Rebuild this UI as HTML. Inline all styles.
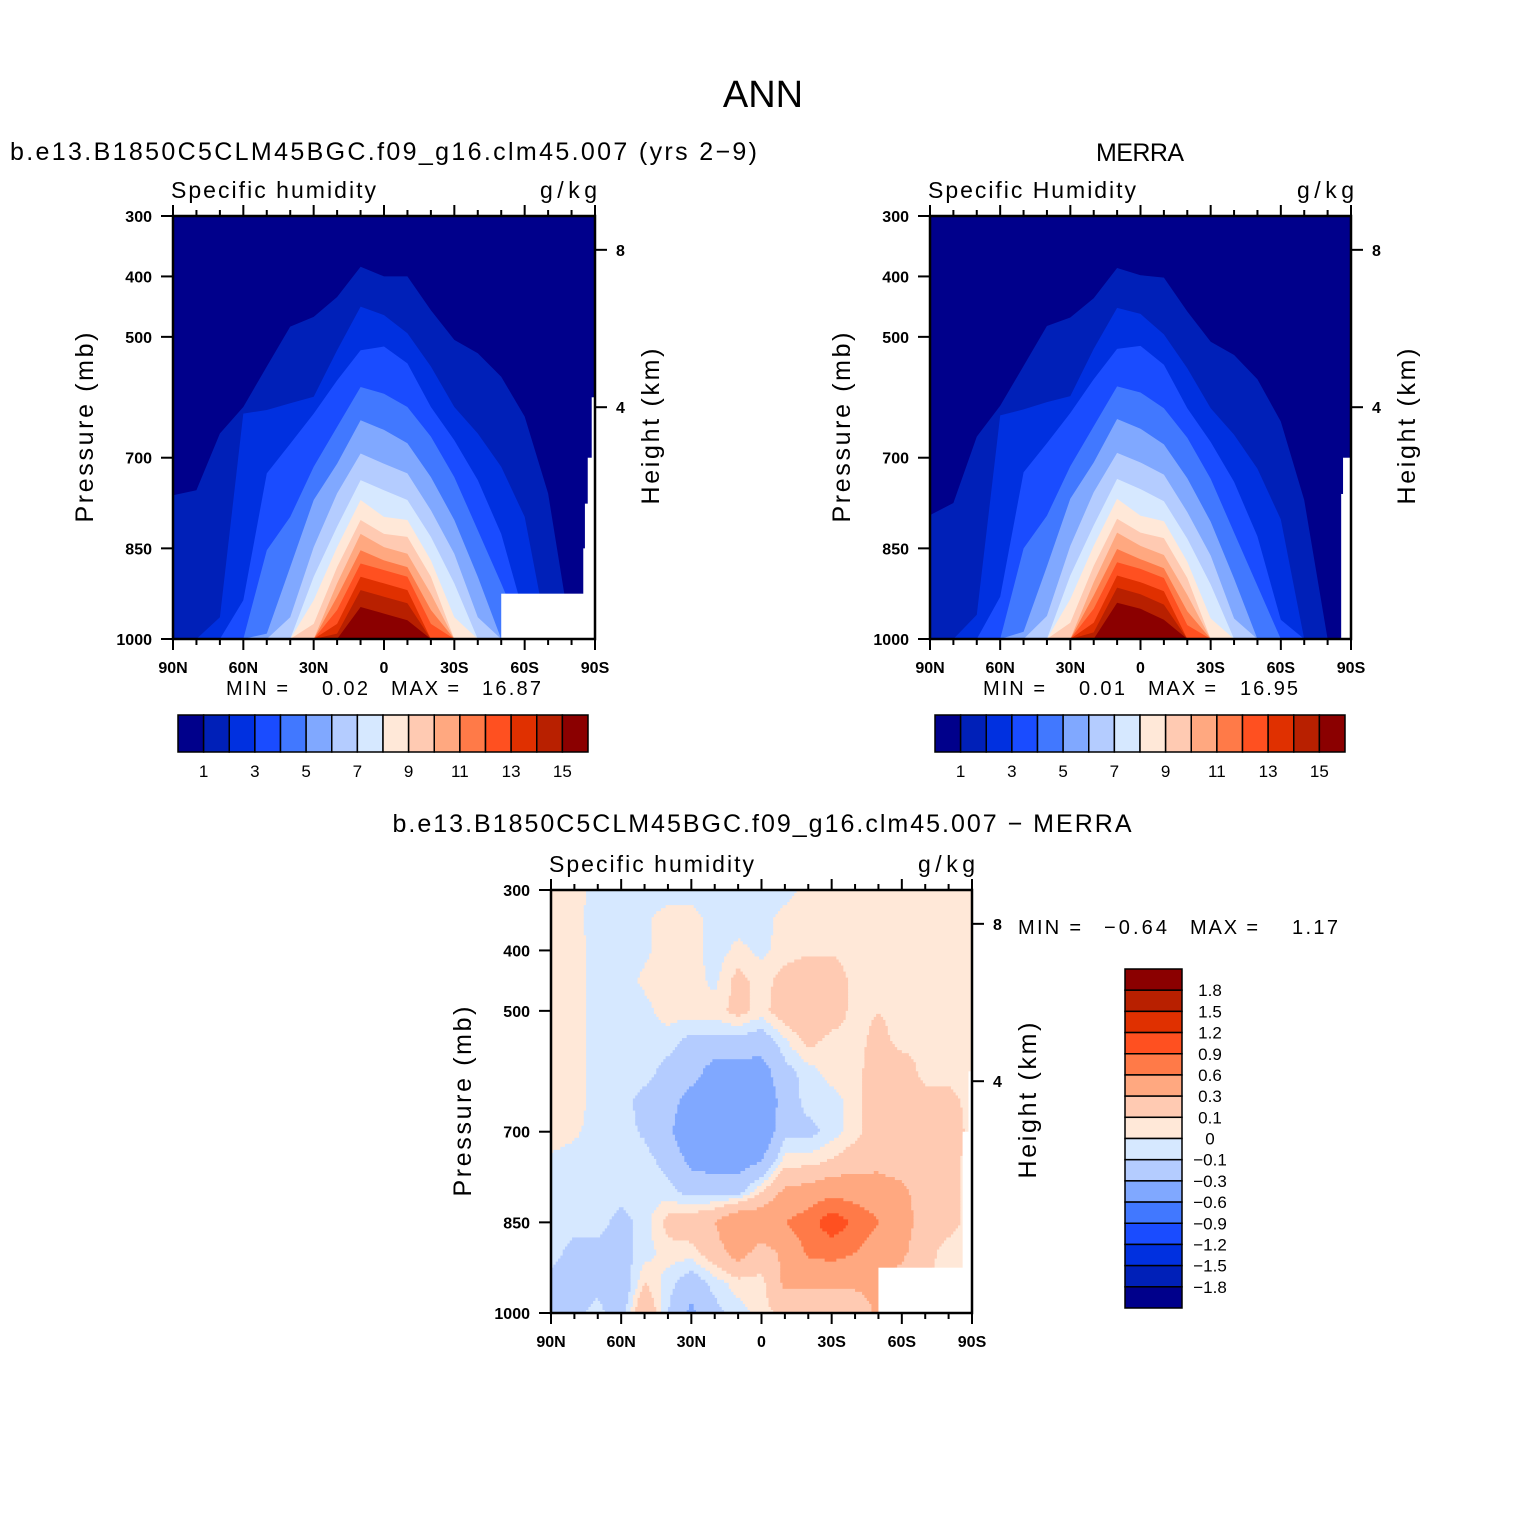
<!DOCTYPE html>
<html>
<head>
<meta charset="utf-8">
<style>
html,body{margin:0;padding:0;background:#fff;}
svg{display:block;font-family:"Liberation Sans",sans-serif;}
.tk{font-size:16px;font-weight:bold;}
.ttl{font-size:25px;}
.sub{font-size:23px;}
.mm{font-size:20px;}
.cb{font-size:17px;}
</style>
</head>
<body>
<svg id="fig" width="1524" height="1524" viewBox="0 0 1524 1524" xmlns="http://www.w3.org/2000/svg">
<rect x="0" y="0" width="1524" height="1524" fill="#fff"/>
<text x="763" y="107" text-anchor="middle" font-size="38">ANN</text>
<text x="10" y="160" class="ttl" textLength="747">b.e13.B1850C5CLM45BGC.f09_g16.clm45.007 (yrs 2−9)</text>
<text x="1140" y="161" class="ttl" text-anchor="middle" textLength="88">MERRA</text>
<text x="762" y="832" class="ttl" text-anchor="middle" textLength="739">b.e13.B1850C5CLM45BGC.f09_g16.clm45.007 − MERRA</text>

<text x="171" y="198" class="sub" textLength="205">Specific humidity</text>
<text x="540" y="198" class="sub" textLength="57">g/kg</text>
<text x="928" y="198" class="sub" textLength="208">Specific Humidity</text>
<text x="1297" y="198" class="sub" textLength="57">g/kg</text>
<text x="549" y="872" class="sub" textLength="205">Specific humidity</text>
<text x="918" y="872" class="sub" textLength="57">g/kg</text>

<text x="226" y="695" class="mm" textLength="62">MIN =</text>
<text x="322" y="695" class="mm" textLength="46">0.02</text>
<text x="391" y="695" class="mm" textLength="68">MAX =</text>
<text x="482" y="695" class="mm" textLength="59">16.87</text>
<text x="983" y="695" class="mm" textLength="62">MIN =</text>
<text x="1079" y="695" class="mm" textLength="46">0.01</text>
<text x="1148" y="695" class="mm" textLength="68">MAX =</text>
<text x="1240" y="695" class="mm" textLength="58">16.95</text>
<text x="1018" y="934" class="mm" textLength="63">MIN =</text>
<text x="1104" y="934" class="mm" textLength="63">−0.64</text>
<text x="1190" y="934" class="mm" textLength="68">MAX =</text>
<text x="1292" y="934" class="mm" textLength="46">1.17</text>

<g id="layer"></g>
</svg>
<script>
// ---------- data ----------
const latGrid = [90,80,70,60,50,40,30,20,10,0,-10,-20,-30,-40,-50,-60,-70,-80,-90];
const xTickLats = [90,60,30,0,-30,-60,-90];
const xTickLabels = ["90N","60N","30N","0","30S","60S","90S"];
const pTicks = [300,400,500,700,850,1000];
const kmTicks = [8,4];
const absColors = ["#00008B","#0020B8","#0030E0","#1A4CFF","#4178FF","#80A8FF","#B4CCFF","#D6E8FF","#FFE8D8","#FFCAB2","#FFA880","#FF7A48","#FF5020","#E03000","#B82000","#8B0000"];
const absCbLabels = ["1","3","5","7","9","11","13","15"];
const diffLevels = [-1.8,-1.5,-1.2,-0.9,-0.6,-0.3,-0.1,0,0.1,0.3,0.6,0.9,1.2,1.5,1.8];
const diffCbLabels = ["−1.8","−1.5","−1.2","−0.9","−0.6","−0.3","−0.1","0","0.1","0.3","0.6","0.9","1.2","1.5","1.8"];

const modelTop = [
 [762,754,660,616,549,483,467,434,384,400,400,456,505,527,566,632,759,1000,1000],
 [1000,1000,964,627,621,610,599,522,450,464,494,549,616,660,715,798,1000,1000,1000],
 [1000,1000,1000,936,726,677,627,572,522,516,544,616,671,737,826,964,1000,1000,1000],
 [1000,1000,1000,1000,853,798,715,649,583,594,616,665,732,820,908,1000,1000,1000,1000],
 [1000,1000,1000,1000,991,881,770,710,638,654,676,732,803,897,1000,1000,1000,1000,1000],
 [1000,1000,1000,1000,1000,964,848,759,693,710,726,787,859,964,1000,1000,1000,1000,1000],
 [1000,1000,1000,1000,1000,1000,897,814,737,754,770,831,908,1000,1000,1000,1000,1000,1000],
 [1000,1000,1000,1000,1000,1000,936,848,770,798,803,870,964,1000,1000,1000,1000,1000,1000],
 [1000,1000,1000,1000,1000,1000,975,881,803,826,831,897,1000,1000,1000,1000,1000,1000,1000],
 [1000,1000,1000,1000,1000,1000,1000,908,826,848,859,925,1000,1000,1000,1000,1000,1000,1000],
 [1000,1000,1000,1000,1000,1000,1000,930,853,870,881,952,1000,1000,1000,1000,1000,1000,1000],
 [1000,1000,1000,1000,1000,1000,1000,952,875,886,897,975,1000,1000,1000,1000,1000,1000,1000],
 [1000,1000,1000,1000,1000,1000,1000,975,897,908,919,1000,1000,1000,1000,1000,1000,1000,1000],
 [1000,1000,1000,1000,1000,1000,1000,991,919,930,941,1000,1000,1000,1000,1000,1000,1000,1000],
 [1000,1000,1000,1000,1000,1000,1000,1000,947,958,969,1000,1000,1000,1000,1000,1000,1000,1000]
];
const obsTop = [
 [795,775,665,614,548,482,468,436,386,398,402,458,508,530,570,640,770,1000,1000],
 [1000,1000,960,630,620,608,598,520,452,462,496,552,618,662,718,802,1000,1000,1000],
 [1000,1000,1000,930,724,676,626,570,520,515,546,618,674,740,830,968,1000,1000,1000],
 [1000,1000,1000,1000,850,796,714,648,582,592,618,667,735,824,912,1000,1000,1000,1000],
 [1000,1000,1000,1000,988,880,768,708,636,652,678,734,806,900,1000,1000,1000,1000,1000],
 [1000,1000,1000,1000,1000,962,846,757,692,708,728,790,862,966,1000,1000,1000,1000,1000],
 [1000,1000,1000,1000,1000,1000,895,812,735,752,772,834,910,1000,1000,1000,1000,1000,1000],
 [1000,1000,1000,1000,1000,1000,934,846,768,796,805,872,966,1000,1000,1000,1000,1000,1000],
 [1000,1000,1000,1000,1000,1000,973,879,801,824,833,899,1000,1000,1000,1000,1000,1000,1000],
 [1000,1000,1000,1000,1000,1000,1000,906,824,846,861,927,1000,1000,1000,1000,1000,1000,1000],
 [1000,1000,1000,1000,1000,1000,1000,928,851,868,883,954,1000,1000,1000,1000,1000,1000,1000],
 [1000,1000,1000,1000,1000,1000,1000,950,873,884,899,977,1000,1000,1000,1000,1000,1000,1000],
 [1000,1000,1000,1000,1000,1000,1000,973,895,906,921,1000,1000,1000,1000,1000,1000,1000,1000],
 [1000,1000,1000,1000,1000,1000,1000,989,915,926,943,1000,1000,1000,1000,1000,1000,1000,1000],
 [1000,1000,1000,1000,1000,1000,1000,1000,940,950,968,1000,1000,1000,1000,1000,1000,1000,1000]
];
const modelMissing = [[-50,-90,925],[-85,-90,850],[-85.7,-90,776],[-86.9,-90,700],[-88.6,-90,600]];
const obsMissing = [[-86.6,-90,700],[-85.8,-90,760]];
const diffMissing = [[-50,-90,925],[-86,-90,700],[-88.5,-90,600]];

const diffP = [300,350,400,450,500,550,600,650,700,750,800,850,900,950,1000];
const diffVals = [
 [.05,.05,-.05,-.05,-.05,-.05,-.05,-.05,-.05,-.05,-.05,.05,.05,.05,.05,.05,.05,.05,.05],
 [.05,.03,-.05,-.05,-.02,.05,.05,-.05,-.05,-.05,.05,.05,.05,.05,.05,.05,.05,.05,.05],
 [.05,.05,-.05,-.05,-.02,.05,.05,-.05,.03,-.03,.05,.08,.08,.05,.05,.05,.05,.05,.05],
 [.05,.05,-.05,-.05,.02,.05,.05,-.03,.15,.05,.15,.2,.2,.05,.05,.05,.05,.05,.05],
 [.05,.05,-.05,-.05,-.03,.05,.05,.05,.15,.05,.2,.25,.2,.05,.1,.05,.05,.05,.05],
 [.05,.05,-.05,-.05,-.05,-.05,-.15,-.15,-.15,-.2,-.02,.15,.05,.05,.15,.05,.05,.05,.05],
 [.05,.05,-.05,-.05,-.05,-.15,-.2,-.4,-.4,-.4,-.15,-.05,.05,.05,.2,.2,.05,.05,.05],
 [.05,.05,-.05,-.05,-.15,-.2,-.4,-.45,-.45,-.5,-.2,-.05,-.05,.05,.2,.2,.15,.15,.05],
 [.05,.02,-.05,-.05,-.12,-.25,-.5,-.55,-.45,-.5,-.15,-.15,-.05,.05,.2,.2,.2,.2,.05],
 [-.02,-.05,-.05,-.05,-.05,-.15,-.35,-.4,-.4,-.3,.05,.05,.12,.2,.25,.2,.2,.15,.05],
 [-.05,-.05,-.05,-.05,-.05,-.05,-.15,-.15,-.15,.1,.35,.4,.5,.45,.4,.35,.2,.15,.05],
 [-.05,-.05,-.05,-.15,-.05,.15,.2,.3,.55,.5,.6,.75,1.1,.85,.6,.4,.2,.15,.05],
 [-.05,-.15,-.15,-.15,-.05,.05,.05,.2,.4,.2,.35,.65,.7,.6,.4,.35,.15,.05,.05],
 [-.15,-.15,-.15,-.25,.1,-.05,-.2,-.05,.05,.05,.35,.35,.35,.35,.35,.2,.1,.05,.05],
 [-.15,-.15,-.05,-.2,.3,-.1,-.35,-.15,-.05,.05,.15,.1,.15,.15,.35,.2,.1,.05,.05]
];

// ---------- helpers ----------
const NS = "http://www.w3.org/2000/svg";
const layer = document.getElementById("layer");
function mk(parent, tag, attrs, text) {
  const e = document.createElementNS(NS, tag);
  for (const k in attrs) e.setAttribute(k, attrs[k]);
  if (text !== undefined) e.textContent = text;
  parent.appendChild(e);
  return e;
}
function kmToP(km) { return 1013.25 * Math.pow(1 - 2.25577e-5 * km * 1000, 5.25588); }

function makePanel(name, L, T, W, H) {
  const p = { L, T, W, H, name };
  p.x = lat => L + (90 - lat) / 180 * W;
  p.y = pr => T + (pr - 300) / 700 * H;
  p.g = mk(layer, "g", {});
  
  
  const clip = mk(layer, "clipPath", { id: name + "-clip" });
  mk(clip, "rect", { x: L, y: T, width: W, height: H });
  p.plot = mk(p.g, "g", { "clip-path": "url(#" + name + "-clip)" });
  
  
  return p;
}

function drawContours(p, tops) {
  const bg = mk(p.plot, "rect", { x: p.L, y: p.T, width: p.W, height: p.H, fill: absColors[0] });
  
  
  tops.forEach((row, k) => {
    let pts = [[p.x(latGrid[0]), p.y(1000) + 2]];
    row.forEach((pr, i) => pts.push([p.x(latGrid[i]), p.y(pr)]));
    pts.push([p.x(latGrid[latGrid.length - 1]), p.y(1000) + 2]);
    const poly = mk(p.plot, "polygon", { points: pts.map(q => q[0].toFixed(1) + "," + q[1].toFixed(1)).join(" "), fill: absColors[k + 1] });
    
    
  });
}

function drawMissing(p, miss) {
  miss.forEach(m => {
    const x1 = p.x(m[0]), x2 = p.x(m[1]);
    const r = mk(p.plot, "rect", { x: Math.min(x1, x2), y: p.y(m[2]), width: Math.abs(x2 - x1) + 2, height: p.y(1000) - p.y(m[2]) + 2, fill: "#fff" });
    
    
  });
}

function drawAxes(p) {
  const g = p.g;
  const frame = mk(g, "rect", { x: p.L, y: p.T, width: p.W, height: p.H, fill: "none", stroke: "#000", "stroke-width": 2.5 });
  
  
  for (let lat = 90; lat >= -90; lat -= 10) {
    const major = lat % 30 === 0;
    const len = major ? 11 : 6;
    const x = p.x(lat);
    mk(g, "line", { x1: x, y1: p.T, x2: x, y2: p.T - len, stroke: "#000", "stroke-width": 2 });
    mk(g, "line", { x1: x, y1: p.T + p.H, x2: x, y2: p.T + p.H + len, stroke: "#000", "stroke-width": 2 });
  }
  xTickLats.forEach((lat, i) => {
    const t = mk(g, "text", { x: p.x(lat), y: p.T + p.H + 34, "text-anchor": "middle", class: "tk" }, xTickLabels[i]);
    
    
  });
  pTicks.forEach(pr => {
    const y = p.y(pr);
    mk(g, "line", { x1: p.L, y1: y, x2: p.L - 12, y2: y, stroke: "#000", "stroke-width": 2 });
    const t = mk(g, "text", { x: p.L - 21, y: y + 6, "text-anchor": "end", class: "tk" }, String(pr));
    
    
  });
  kmTicks.forEach(km => {
    const y = p.y(kmToP(km));
    mk(g, "line", { x1: p.L + p.W, y1: y, x2: p.L + p.W + 12, y2: y, stroke: "#000", "stroke-width": 2 });
    const t = mk(g, "text", { x: p.L + p.W + 21, y: y + 6, class: "tk" }, String(km));
    
    
  });
  const cy = p.T + p.H / 2;
  const yx = p.L - 80;
  const yl = mk(g, "text", { x: yx, y: cy, "text-anchor": "middle", "font-size": 25, textLength: 190, transform: "rotate(-90 " + yx + " " + cy + ")" }, "Pressure (mb)");
  
  
  const hx = p.L + p.W + 64;
  const hl = mk(g, "text", { x: hx, y: cy - 1, "text-anchor": "middle", "font-size": 25, textLength: 156, transform: "rotate(-90 " + hx + " " + (cy - 1) + ")" }, "Height (km)");
  
  
}

function hColorbar(name, x0, y0, w, h) {
  const g = mk(layer, "g", {});
  
  
  const bw = w / absColors.length;
  absColors.forEach((c, i) => {
    const r = mk(g, "rect", { x: x0 + i * bw, y: y0, width: bw, height: h, fill: c, stroke: "#000", "stroke-width": 1.5 });
    
    
  });
  absCbLabels.forEach((lab, i) => {
    const t = mk(g, "text", { x: x0 + (2 * i + 1) * bw, y: y0 + h + 25, "text-anchor": "middle", class: "cb" }, lab);
    
    
  });
}

// ---------- top panels ----------
const pm = makePanel("model", 173, 216, 422, 423);
drawContours(pm, modelTop);
drawMissing(pm, modelMissing);
drawAxes(pm);
hColorbar("model-colorbar", 178, 715, 410, 37);

const po = makePanel("obs", 930, 216, 421, 423);
drawContours(po, obsTop);
drawMissing(po, obsMissing);
drawAxes(po);
hColorbar("obs-colorbar", 935, 715, 410, 37);

// ---------- difference panel ----------
const pd = makePanel("diff", 551, 890, 421, 423);
function diffColor(v) {
  let k = 0;
  while (k < diffLevels.length && v >= diffLevels[k]) k++;
  return absColors[k];
}
function sampleDiff(lat, pr) {
  let fi = (90 - lat) / 10; fi = Math.max(0, Math.min(latGrid.length - 1.0001, fi));
  let fj = (pr - diffP[0]) / 50; fj = Math.max(0, Math.min(diffP.length - 1.0001, fj));
  const i = Math.floor(fi), j = Math.floor(fj), a = fi - i, b = fj - j;
  const v00 = diffVals[j][i], v01 = diffVals[j][i + 1], v10 = diffVals[j + 1][i], v11 = diffVals[j + 1][i + 1];
  return (v00 * (1 - a) + v01 * a) * (1 - b) + (v10 * (1 - a) + v11 * a) * b;
}
(function () {
  const dLat = 1, dP = 5;
  for (let pr = 300; pr < 1000; pr += dP) {
    let runStart = 90, runColor = null;
    for (let lat = 90; lat >= -90; lat -= dLat) {
      const c = lat > -90 ? diffColor(sampleDiff(lat - dLat / 2, pr + dP / 2)) : null;
      if (c !== runColor) {
        if (runColor !== null) {
          const x1 = pd.x(runStart), x2 = pd.x(lat);
          const r = mk(pd.plot, "rect", { x: x1.toFixed(2), y: pd.y(pr).toFixed(2), width: (x2 - x1 + 0.6).toFixed(2), height: (pd.y(pr + dP) - pd.y(pr) + 0.6).toFixed(2), fill: runColor });
          
          
        }
        runStart = lat; runColor = c;
      }
    }
  }
})();
drawMissing(pd, diffMissing);
drawAxes(pd);

(function () {
  const g = mk(layer, "g", {});
  
  
  const x0 = 1125, y0 = 969, w = 57, h = 339, n = absColors.length, bh = h / n;
  for (let i = 0; i < n; i++) {
    const r = mk(g, "rect", { x: x0, y: y0 + i * bh, width: w, height: bh, fill: absColors[n - 1 - i], stroke: "#000", "stroke-width": 1.5 });
    
    
  }
  diffCbLabels.forEach((lab, k) => {
    const y = y0 + (n - 1 - k) * bh;
    const t = mk(g, "text", { x: 1210, y: y + 6, "text-anchor": "middle", class: "cb" }, lab);
    
    
  });
})();
</script>
</body>
</html>
